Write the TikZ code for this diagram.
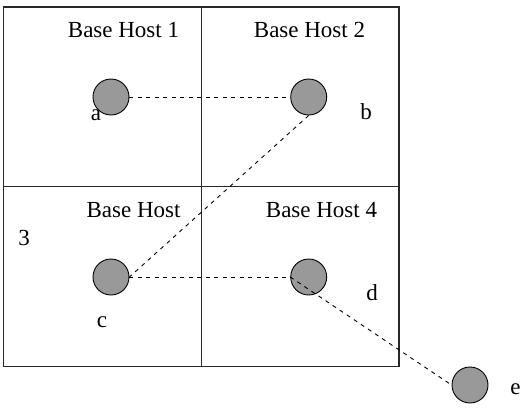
\documentclass[tikz,border=0pt]{standalone}
\usepackage{fontspec}
\setmainfont{Liberation Serif}
\usetikzlibrary{positioning}
\definecolor{hostgray}{RGB}{153, 153, 153}
\definecolor{linegray}{RGB}{40, 40, 40}
\tikzset{
  hostbox/.style={rectangle, draw=linegray, line width=1.1pt, inner sep=0pt,
              outer sep=0pt, minimum width=197.75pt, minimum height=179.75pt},
  mobile/.style={circle, draw=black, fill=hostgray, line width=0.9pt,
              minimum size=36pt, inner sep=0pt},
  label/.style={anchor=base, font=\fontsize{23}{26}\selectfont, inner sep=0pt},
  link/.style={dashed, dash pattern=on 4pt off 4.5pt, line width=0.9pt, color=black},
}
\begin{document}
\begin{tikzpicture}[x=1pt, y=-1pt]
  \useasboundingbox (0,0) rectangle (523,410);

  % four base host cells
  \node[hostbox] (q1) at (102.4,96.9) {};
  \node[hostbox, right=0pt of q1] (q2) {};
  \node[hostbox, below=0pt of q1] (q3) {};
  \node[hostbox, right=0pt of q3] (q4) {};

  \node[label] (h1) at (123.5,37) {Base Host 1};
  \node[label] (h2) at (309.5,37) {Base Host 2};
  \node[label] (h3) at (133.5,217) {Base Host};
  \node[label] (h3n) at (24,245) {3};
  \node[label] (h4) at (321.5,217) {Base Host 4};

  % mobile hosts
  \node[mobile] (a) at (111,97) {};
  \node[mobile] (b) at (308.7,97) {};
  \node[mobile] (c) at (111,277) {};
  \node[mobile] (d) at (308.7,277) {};
  \node[mobile] (e) at (470,385) {};

  \node[label] (la) at (96,120.5) {a};
  \node[label] (lb) at (366,119) {b};
  \node[label] (lc) at (102,327) {c};
  \node[label] (ld) at (372,300) {d};
  \node[label] (le) at (515.5,394) {e};

  \draw[link] (a.east) -- (b.west);
  \draw[link] (b.south) -- (c.east);
  \draw[link] (c.east) -- (d.west);
  \draw[link] (d.west) -- (e.west);
\end{tikzpicture}
\end{document}
